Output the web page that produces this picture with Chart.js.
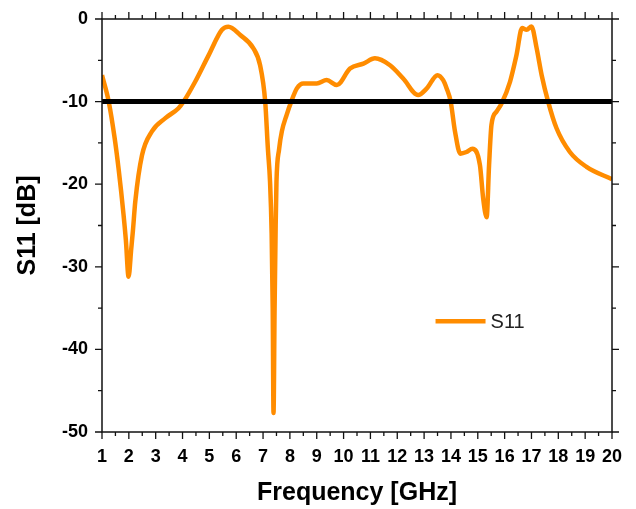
<!DOCTYPE html>
<html>
<head>
<meta charset="utf-8">
<script src="https://cdn.jsdelivr.net/npm/chart.js@4/dist/chart.umd.min.js"></script>
<style>
  html, body { margin: 0; padding: 0; background: #ffffff; }
  #wrap { width: 636px; height: 509px; }
</style>
</head>
<body>
<div id="wrap"><canvas id="c" width="636" height="509"></canvas></div>
<script>
// ---- data ----
const freqGHz = [1, 1.25, 1.47, 1.62, 1.80, 1.89, 1.99, 2.09, 2.15, 2.24, 2.49, 2.86, 3.36, 3.85, 4.04, 4.47, 4.97, 5.47, 5.71, 6.15, 6.64, 6.89, 7.08, 7.18, 7.26, 7.32, 7.36, 7.39, 7.43, 7.47, 7.50, 7.60, 7.70, 7.88, 8.05, 8.26, 8.50, 9.00, 9.37, 9.75, 10.24, 10.74, 11.17, 11.73, 12.22, 12.78, 13.10, 13.50, 13.71, 13.84, 13.99, 14.15, 14.35, 14.58, 14.80, 15.08, 15.20, 15.33, 15.42, 15.51, 15.70, 15.89, 16.20, 16.44, 16.65, 16.82, 17.00, 17.19, 17.38, 17.62, 17.93, 18.43, 19.05, 20];
const s11dB = [-6.8, -10, -14.4, -18.2, -23.6, -26.8, -31.2, -27.8, -25.7, -22.1, -16.5, -13.6, -12.0, -10.8, -10, -7.6, -4.4, -1.3, -0.93, -1.94, -3.55, -5.6, -10, -15.7, -19.7, -26, -35, -47.7, -35, -25, -19.7, -15.7, -13.6, -11.6, -10, -8.4, -7.8, -7.8, -7.4, -8.0, -6.0, -5.4, -4.76, -5.6, -7.2, -9.2, -8.4, -6.8, -7.4, -8.4, -10, -13.6, -16.3, -16.1, -15.7, -17.7, -21.7, -24.0, -17.7, -12.8, -11.2, -10.2, -7.6, -4.4, -1.1, -1.3, -0.9, -3.5, -6.8, -10, -13.2, -16.1, -17.9, -19.4];
const thresholdX = [1, 20];
const thresholdY = [-10, -10];
const xTickRange = [1, 20];
const yTickRange = [-50, 0];
const seriesName = 'S11';
const xTitle = 'Frequency [GHz]';
const yTitle = 'S11 [dB]';

const FONT = '"Liberation Sans", Arial, sans-serif';
const ORANGE = '#FF8C00';

const curvePts = freqGHz.map((f, i) => ({x: f, y: s11dB[i]}));
const threshPts = thresholdX.map((f, i) => ({x: f, y: thresholdY[i]}));

// Frame, ticks (major + minor, outward on all four sides) and legend
const framePlugin = {
  id: 'frame',
  afterDraw(chart) {
    const ctx = chart.ctx;
    const xs = chart.scales.x, ys = chart.scales.y;
    const a = chart.chartArea;
    ctx.save();
    ctx.strokeStyle = '#111';
    ctx.lineWidth = 1.5;
    ctx.strokeRect(a.left, a.top, a.right - a.left, a.bottom - a.top);
    ctx.lineWidth = 1.3;
    ctx.beginPath();
    for (let v = xTickRange[0]; v <= xTickRange[1] + 1e-9; v += 0.5) {
      const px = xs.getPixelForValue(v);
      const major = Math.abs(v - Math.round(v)) < 1e-9;
      const L = major ? 7 : 4;
      ctx.moveTo(px, a.bottom); ctx.lineTo(px, a.bottom + L);
      ctx.moveTo(px, a.top); ctx.lineTo(px, a.top - L);
    }
    for (let v = yTickRange[0]; v <= yTickRange[1] + 1e-9; v += 5) {
      const py = ys.getPixelForValue(v);
      const major = Math.abs(v % 10) < 1e-9;
      const L = major ? 7 : 4;
      ctx.moveTo(a.left, py); ctx.lineTo(a.left - L, py);
      ctx.moveTo(a.right, py); ctx.lineTo(a.right + L, py);
    }
    ctx.stroke();
    // legend
    const lx = a.left + (a.right - a.left) * 0.654;
    const ly = a.top + (a.bottom - a.top) * 0.732;
    ctx.strokeStyle = ORANGE;
    ctx.lineWidth = 4.5;
    ctx.lineCap = 'butt';
    ctx.beginPath();
    ctx.moveTo(lx, ly); ctx.lineTo(lx + 50, ly);
    ctx.stroke();
    ctx.fillStyle = '#222';
    ctx.font = '20px ' + FONT;
    ctx.textBaseline = 'middle';
    ctx.textAlign = 'left';
    ctx.fillText(seriesName, lx + 55, ly + 1);
    ctx.restore();
  }
};

new Chart(document.getElementById('c'), {
  type: 'line',
  data: {
    datasets: [
      {
        label: '-10 dB',
        data: threshPts,
        borderColor: '#000',
        borderWidth: 5,
        pointRadius: 0,
        order: 0
      },
      {
        label: seriesName,
        data: curvePts,
        borderColor: ORANGE,
        borderWidth: 4.5,
        pointRadius: 0,
        cubicInterpolationMode: 'monotone',
        borderJoinStyle: 'round',
        order: 1
      }
    ]
  },
  options: {
    responsive: false,
    animation: false,
    devicePixelRatio: 1,
    layout: { padding: { left: 0, right: 24, top: 19, bottom: 0 } },
    plugins: { legend: { display: false }, tooltip: { enabled: false } },
    scales: {
      x: {
        type: 'linear',
        min: xTickRange[0], max: xTickRange[1],
        ticks: { stepSize: 1, color: '#000', font: { family: FONT, size: 18, weight: 'bold' }, padding: 14, maxRotation: 0, autoSkip: false },
        grid: { display: false, drawTicks: false },
        border: { display: false },
        title: { display: true, text: xTitle, color: '#000', font: { family: FONT, size: 25, weight: 'bold' }, padding: { top: 4, bottom: 1 } },
        afterFit(s) { s.height = 77; s.paddingLeft = 0; s.paddingRight = 0; }
      },
      y: {
        type: 'linear',
        min: yTickRange[0], max: yTickRange[1],
        ticks: { stepSize: 10, color: '#000', font: { family: FONT, size: 18, weight: 'bold' }, padding: 14 },
        grid: { display: false, drawTicks: false },
        border: { display: false },
        title: { display: true, text: yTitle, color: '#000', font: { family: FONT, size: 25, weight: 'bold' }, padding: { top: 13, bottom: 4 } },
        afterFit(s) { s.width = 102; s.paddingTop = 0; s.paddingBottom = 0; }
      }
    }
  },
  plugins: [framePlugin]
});
</script>
</body>
</html>
